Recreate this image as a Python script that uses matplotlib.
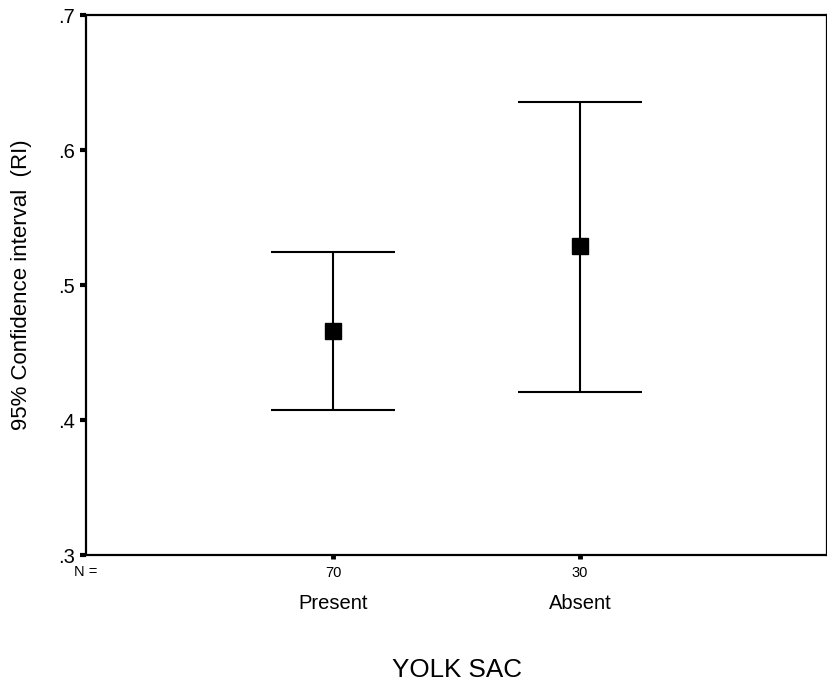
import matplotlib
matplotlib.use("Agg")
import matplotlib.pyplot as plt
import numpy as np

plt.rcParams['font.family'] = ['Liberation Sans', 'DejaVu Sans']

# Group summaries: mean and 95% confidence interval of RI
categories = ["Present", "Absent"]
n_counts = [70, 30]
means = [0.466, 0.529]
ci_lower = [0.4075, 0.421]
ci_upper = [0.5245, 0.636]
y_ticks = [0.3, 0.4, 0.5, 0.6, 0.7]
y_tick_labels = [".3", ".4", ".5", ".6", ".7"]

fig = plt.figure(figsize=(8.28, 6.88), dpi=100)
ax = fig.add_axes([0.1039, 0.1933, 0.8949, 0.7842])

x = np.arange(1, len(categories) + 1)
means_arr = np.array(means)
yerr = np.vstack([means_arr - np.array(ci_lower), np.array(ci_upper) - means_arr])

ax.errorbar(x, means_arr, yerr=yerr, fmt='none', ecolor='black',
            elinewidth=1.5, capsize=0, zorder=2)
# wide horizontal caps
ax.hlines(ci_lower, x - 0.25, x + 0.25, colors='black', linewidth=1.5, zorder=2)
ax.hlines(ci_upper, x - 0.25, x + 0.25, colors='black', linewidth=1.5, zorder=2)
ax.plot(x, means_arr, linestyle='none', marker='s', markersize=12,
        color='black', zorder=3)

ax.set_xlim(0, 3)
ax.set_ylim(0.3, 0.7)
ax.set_yticks(y_ticks)
ax.set_yticklabels(y_tick_labels, fontsize=14.5)
ax.set_xticks(x)
ax.set_xticklabels([str(n) for n in n_counts], fontsize=10.5)

for sp in ax.spines.values():
    sp.set_linewidth(1.6)
    sp.set_color('black')

ax.tick_params(axis='y', direction='out', length=4.3, width=3, pad=4)
ax.tick_params(axis='x', direction='out', length=3, width=3.5, pad=5)

xtr = ax.get_xaxis_transform()
ax.text(0, -0.032, "N =", transform=xtr, ha='center', va='center', fontsize=10.5)
for xi, cat in zip(x, categories):
    ax.text(xi, -0.09, cat, transform=xtr, ha='center', va='center', fontsize=14.5)

fig.text(0.5515, 1 - 670 / 688, "YOLK SAC", ha='center', va='center', fontsize=18.7)
fig.text(22 / 828, 1 - 285 / 688, "95% Confidence interval  (RI)", rotation=90,
         ha='center', va='center', fontsize=16)

fig.savefig("out.png", dpi=100)
